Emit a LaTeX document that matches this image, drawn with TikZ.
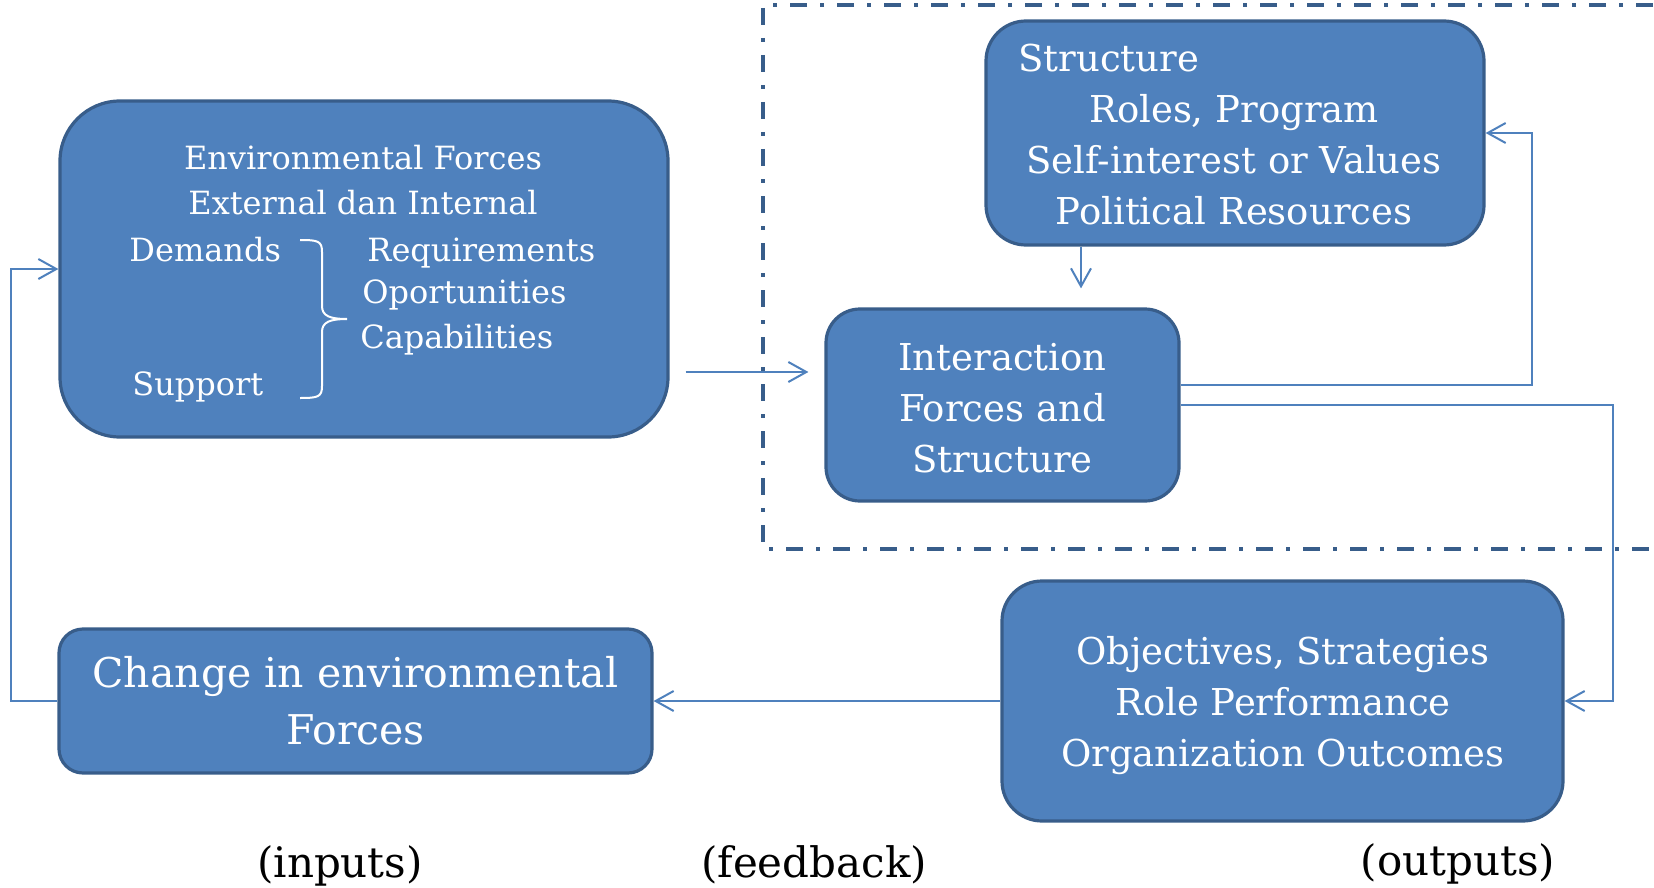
\documentclass[tikz,border=0pt]{standalone}
\usepackage{fontspec}
\setmainfont{DejaVu Serif}
\usetikzlibrary{arrows.meta,positioning}
\definecolor{boxblue}{HTML}{4F81BD}
\definecolor{edgeblue}{HTML}{385D8A}
\newcommand{\envfont}{\fontsize{16}{22.5}\selectfont}
\newcommand{\boxfont}{\fontsize{18.5}{25.5}\selectfont}
\begin{document}
\begin{tikzpicture}[x=0.5pt,y=-0.5pt]
    \tikzstyle{block}=[rectangle,fill=boxblue,draw=edgeblue,line width=1.6pt,text=white,align=center,inner sep=0pt]
    \tikzstyle{txt}=[text=white,inner sep=0pt]
    \tikzstyle{conn}=[draw=boxblue,line width=1pt,-{Straight Barb[length=9pt,width=10pt]}]
    \useasboundingbox (0,0) rectangle (1654,888);
    % frame round the organisation
    \draw[edgeblue,line width=1.75pt,dash pattern=on 8.5pt off 6.5pt on 2pt off 6.5pt]
        (1700,5) -- (763,5) -- (763,549) -- (1700,549);
    % boxes
    \node[block, minimum width=304pt, minimum height=168pt, rounded corners=30pt] (env) at (364,269) {};
    \node[block, minimum width=249pt, minimum height=112pt, rounded corners=20pt] (struct) at (1235,133) {};
    \node[block, minimum width=176.5pt, minimum height=96pt, rounded corners=17pt] (inter) at (1002.5,405) {};
    \node[block, minimum width=280.5pt, minimum height=120pt, rounded corners=20pt] (obj) at (1282.5,701) {};
    \node[block, minimum width=296.5pt, minimum height=72pt, rounded corners=12pt, font=\fontsize{20.5}{28.5}\selectfont] (change) at (355.5,701)
        {Change in environmental\\Forces};
    % texts of the boxes
    \node[txt,font=\envfont,align=center] (envhead) at (363,180) {Environmental Forces\\External dan Internal};
    \node[txt,font=\envfont,anchor=base west] (demands) at (129,261) {Demands};
    \node[txt,font=\envfont,anchor=base west] (support) at (132,395) {Support};
    \node[txt,font=\envfont,anchor=base west] (req) at (367,261) {Requirements};
    \node[txt,font=\envfont,anchor=base west] (oport) at (362,303) {Oportunities};
    \node[txt,font=\envfont,anchor=base west] (capab) at (360,348) {Capabilities};
    \draw[white,line width=1pt] (300,240) .. controls (318,240) and (322,241) .. (322,252) -- (322,306)
        .. controls (322,316) and (330,319) .. (347,319) .. controls (330,319) and (322,322) .. (322,332)
        -- (322,386) .. controls (322,397) and (318,398) .. (300,398);
    \node[txt,font=\boxfont,anchor=base west] (structhead) at (1018,72) {Structure};
    \node[txt,font=\boxfont,align=center] (structtxt) at (1234,160) {Roles, Program\\Self-interest or Values\\Political Resources};
    \node[txt,font=\boxfont,align=center] (intertxt) at (1002.5,408) {Interaction\\Forces and\\Structure};
    \node[txt,font=\boxfont,align=center] (objtxt) at (1283,706) {Objectives, Strategies\\Role Performance\\Organization Outcomes};
    % connectors
    \draw[conn,shorten >=8pt] ([shift={(8pt,-51.5pt)}]env.east) coordinate (gapin) -- (gapin -| inter.west);
    \draw[conn,shorten >=9.5pt] ([xshift=-77pt]struct.south) -- ([xshift=-77pt]struct.south |- inter.north);
    \draw[conn] ([yshift=10pt]inter.east) -| ([xshift=23pt]struct.east) -- (struct.east);
    \draw[conn] (inter.east) -| ([xshift=24pt]obj.east) -- (obj.east);
    \draw[conn] (obj.west) -- (change.east);
    \draw[conn] (change.west) -- ++(-23pt,0) |- (env.west);
    % labels
    \node[font=\fontsize{21}{24}\selectfont,anchor=base] (inputs) at (340,877) {(inputs)};
    \node[font=\fontsize{21}{24}\selectfont,anchor=base] (feedback) at (814,877) {(feedback)};
    \node[font=\fontsize{21}{24}\selectfont,anchor=base] (outputs) at (1458,875) {(outputs)};
\end{tikzpicture}
\end{document}
